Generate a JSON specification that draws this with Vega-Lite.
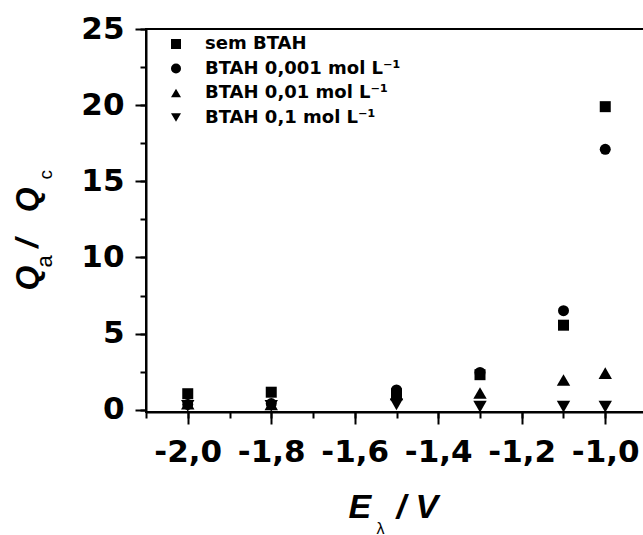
{
  "$schema": "https://vega.github.io/schema/vega-lite/v6.json",
  "width": 501,
  "height": 383,
  "autosize": {"type": "none"},
  "padding": {"left": 146, "top": 29, "right": 0, "bottom": 123},
  "background": "white",
  "config": {
    "view": {"stroke": "black", "strokeWidth": 2},
    "axis": {
      "grid": false,
      "domainColor": "black",
      "domainWidth": 2,
      "tickColor": "black",
      "tickWidth": 2,
      "labelColor": "black",
      "titleColor": "black",
      "labelFlush": false,
      "labelOverlap": false
    }
  },
  "data": {
    "values": [
      {"E": -2.0, "ratio": 1.05, "serie": "sem BTAH"},
      {"E": -1.8, "ratio": 1.15, "serie": "sem BTAH"},
      {"E": -1.5, "ratio": 1.05, "serie": "sem BTAH"},
      {"E": -1.3, "ratio": 2.3, "serie": "sem BTAH"},
      {"E": -1.1, "ratio": 5.55, "serie": "sem BTAH"},
      {"E": -1.0, "ratio": 19.9, "serie": "sem BTAH"},
      {"E": -2.0, "ratio": 0.35, "serie": "BTAH 0,001 mol L⁻¹"},
      {"E": -1.8, "ratio": 0.4, "serie": "BTAH 0,001 mol L⁻¹"},
      {"E": -1.5, "ratio": 1.3, "serie": "BTAH 0,001 mol L⁻¹"},
      {"E": -1.3, "ratio": 2.45, "serie": "BTAH 0,001 mol L⁻¹"},
      {"E": -1.1, "ratio": 6.5, "serie": "BTAH 0,001 mol L⁻¹"},
      {"E": -1.0, "ratio": 17.1, "serie": "BTAH 0,001 mol L⁻¹"},
      {"E": -2.0, "ratio": 0.4, "serie": "BTAH 0,01 mol L⁻¹"},
      {"E": -1.8, "ratio": 0.35, "serie": "BTAH 0,01 mol L⁻¹"},
      {"E": -1.5, "ratio": 1.0, "serie": "BTAH 0,01 mol L⁻¹"},
      {"E": -1.3, "ratio": 1.1, "serie": "BTAH 0,01 mol L⁻¹"},
      {"E": -1.1, "ratio": 1.95, "serie": "BTAH 0,01 mol L⁻¹"},
      {"E": -1.0, "ratio": 2.4, "serie": "BTAH 0,01 mol L⁻¹"},
      {"E": -2.0, "ratio": 0.25, "serie": "BTAH 0,1 mol L⁻¹"},
      {"E": -1.8, "ratio": 0.25, "serie": "BTAH 0,1 mol L⁻¹"},
      {"E": -1.5, "ratio": 0.35, "serie": "BTAH 0,1 mol L⁻¹"},
      {"E": -1.3, "ratio": 0.2, "serie": "BTAH 0,1 mol L⁻¹"},
      {"E": -1.1, "ratio": 0.2, "serie": "BTAH 0,1 mol L⁻¹"},
      {"E": -1.0, "ratio": 0.2, "serie": "BTAH 0,1 mol L⁻¹"}
    ]
  },
  "layer": [
    {
      "mark": {"type": "point", "opacity": 0},
      "encoding": {
        "x": {
          "field": "E", "type": "quantitative",
          "scale": {"domain": [-2.1, -0.9], "nice": false, "zero": false},
          "axis": {
            "orient": "bottom",
            "values": [-2.1, -2.0, -1.9, -1.8, -1.7, -1.6, -1.5, -1.4, -1.3, -1.2, -1.1, -1.0, -0.9],
            "tickSize": 6,
            "labels": false,
            "domain": false,
            "title": "λ",
            "titleFont": "Liberation Sans",
            "titleFontSize": 16,
            "titleFontWeight": "normal",
            "titleAlign": "left",
            "titleBaseline": "alphabetic",
            "titleX": 230,
            "titleY": 121
          }
        },
        "y": {
          "field": "ratio", "type": "quantitative",
          "scale": {"domain": [-0.15, 25], "nice": false, "zero": false},
          "axis": {
            "orient": "left",
            "values": [0, 2.5, 5, 7.5, 10, 12.5, 15, 17.5, 20, 22.5, 25],
            "tickSize": 6,
            "labels": false,
            "domain": false,
            "title": "a",
            "titleFont": "Liberation Sans",
            "titleFontSize": 22,
            "titleFontWeight": "normal",
            "titleAngle": -90,
            "titleAlign": "left",
            "titleBaseline": "alphabetic",
            "titleX": -95,
            "titleY": 238
          }
        }
      }
    },
    {
      "mark": {"type": "point", "opacity": 0},
      "encoding": {
        "x": {
          "field": "E", "type": "quantitative",
          "axis": {
            "orient": "bottom",
            "ticks": false,
            "labels": false,
            "domain": false,
            "title": "/\u00a0V",
            "titleFont": "Liberation Sans",
            "titleFontSize": 34,
            "titleFontWeight": "bold",
            "titleFontStyle": "italic",
            "titleAlign": "left",
            "titleBaseline": "alphabetic",
            "titleX": 250,
            "titleY": 105
          }
        },
        "y": {
          "field": "ratio", "type": "quantitative",
          "axis": {
            "orient": "left",
            "ticks": false,
            "labels": false,
            "domain": false,
            "title": "c",
            "titleFont": "Liberation Sans",
            "titleFontSize": 19,
            "titleFontWeight": "normal",
            "titleAngle": -90,
            "titleAlign": "left",
            "titleBaseline": "alphabetic",
            "titleX": -95,
            "titleY": 150
          }
        }
      }
    },
    {
      "transform": [{"filter": {"field": "serie", "oneOf": ["sem BTAH", "BTAH 0,001 mol L⁻¹"]}}],
      "mark": {"type": "point", "filled": true, "opacity": 1, "size": 121},
      "encoding": {
        "x": {
          "field": "E", "type": "quantitative",
          "axis": {
            "orient": "bottom",
            "values": [-2.0, -1.8, -1.6, -1.4, -1.2, -1.0],
            "tickSize": 12,
            "labelExpr": "replace(replace(format(datum.value, '.1f'), '.', ','), '−', '-')",
            "labelFont": "DejaVu Sans",
            "labelFontWeight": "bold",
            "labelFontSize": 31,
            "labelPadding": 13,
            "title": "E",
            "titleFont": "Liberation Sans",
            "titleFontSize": 34,
            "titleFontWeight": "bold",
            "titleFontStyle": "italic",
            "titleAlign": "left",
            "titleBaseline": "alphabetic",
            "titleX": 202,
            "titleY": 105
          }
        },
        "y": {
          "field": "ratio", "type": "quantitative",
          "axis": {
            "orient": "left",
            "values": [0, 5, 10, 15, 20, 25],
            "tickSize": 11,
            "labelFont": "DejaVu Sans",
            "labelFontWeight": "bold",
            "labelFontSize": 31,
            "labelPadding": 11,
            "title": "Q\u00a0\u00a0/\u00a0\u00a0\u00a0Q",
            "titleFont": "Liberation Sans",
            "titleFontSize": 32,
            "titleFontWeight": "bold",
            "titleFontStyle": "italic",
            "titleAngle": -90,
            "titleAlign": "left",
            "titleBaseline": "alphabetic",
            "titleX": -109,
            "titleY": 261
          }
        },
        "shape": {
          "field": "serie", "type": "nominal",
          "scale": {
            "domain": ["sem BTAH", "BTAH 0,001 mol L⁻¹", "BTAH 0,01 mol L⁻¹", "BTAH 0,1 mol L⁻¹"],
            "range": ["square", "circle", "triangle-up", "triangle-down"]
          },
          "legend": {
            "title": null,
            "orient": "none",
            "legendX": 21,
            "legendY": 6,
            "padding": 0,
            "symbolSize": 100,
            "symbolFillColor": "black",
            "symbolStrokeColor": "black",
            "symbolStrokeWidth": 0,
            "labelFont": "DejaVu Sans",
            "labelFontWeight": "bold",
            "labelFontSize": 18,
            "labelColor": "black",
            "labelOffset": 20,
            "labelLimit": 400,
            "rowPadding": 6.5
          }
        },
        "color": {"value": "black"}
      }
    },
    {
      "transform": [{"filter": {"field": "serie", "oneOf": ["BTAH 0,01 mol L⁻¹", "BTAH 0,1 mol L⁻¹"]}}],
      "mark": {"type": "point", "filled": true, "opacity": 1, "size": 180},
      "encoding": {
        "x": {"field": "E", "type": "quantitative", "axis": null},
        "y": {"field": "ratio", "type": "quantitative", "axis": null},
        "shape": {"field": "serie", "type": "nominal"},
        "color": {"value": "black"}
      }
    }
  ],
  "resolve": {"axis": {"x": "independent", "y": "independent"}}
}
